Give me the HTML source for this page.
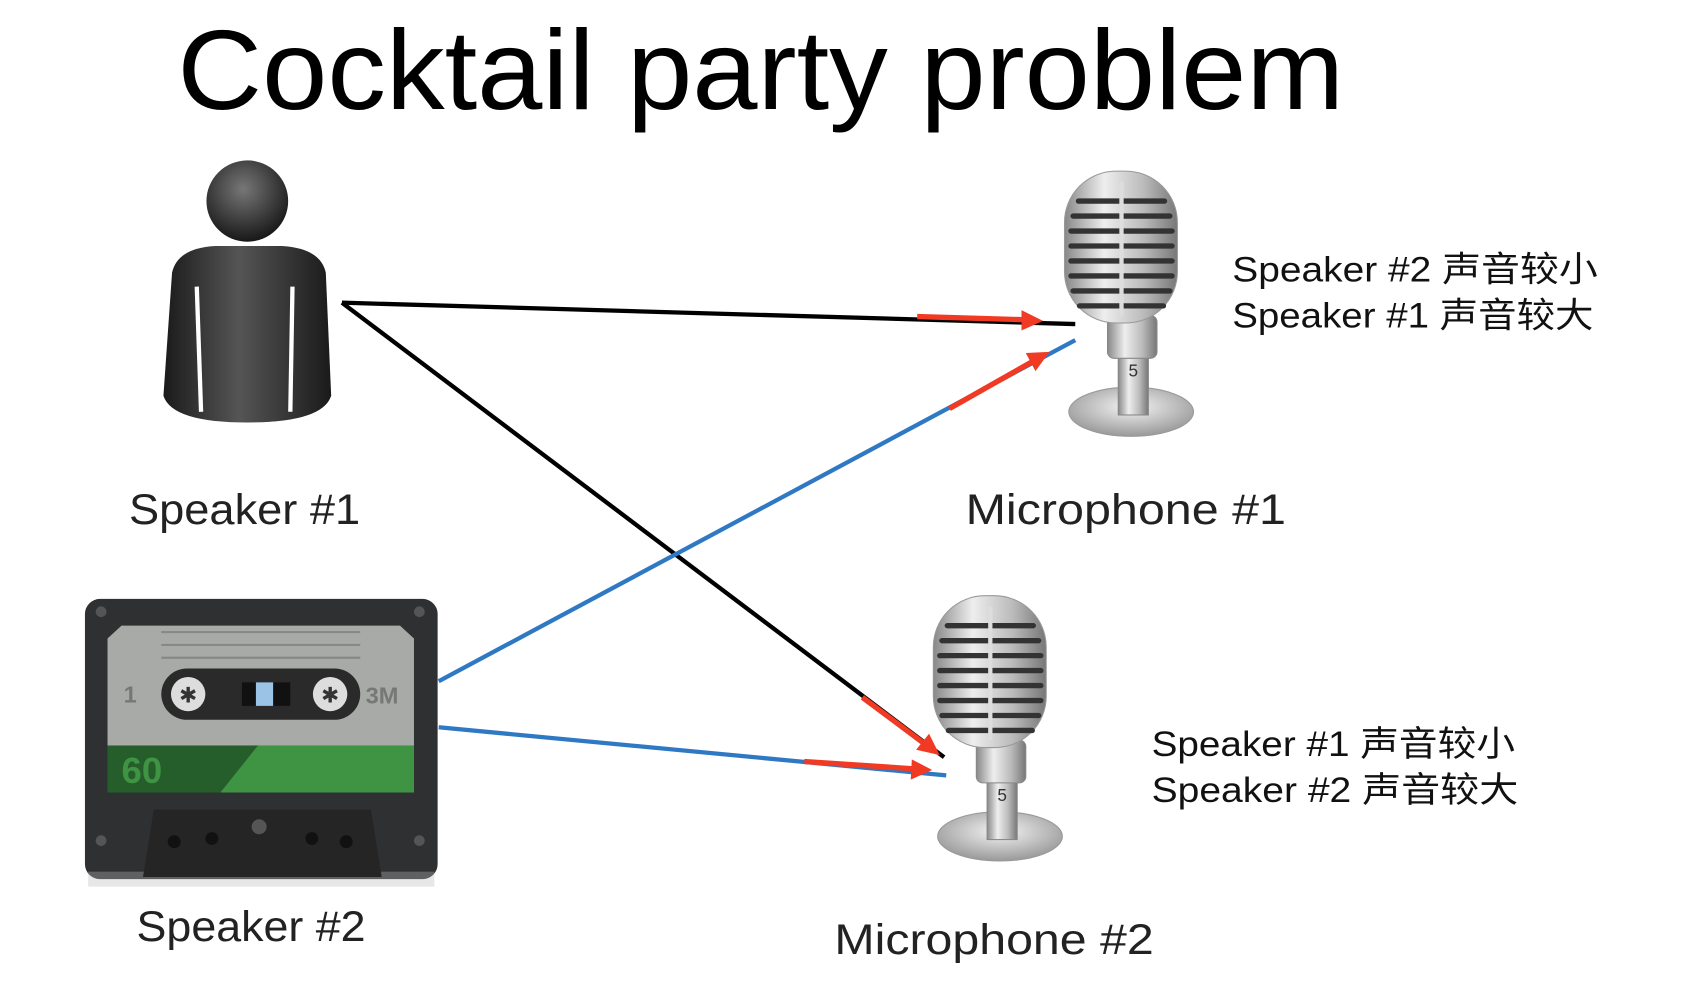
<!DOCTYPE html>
<html><head><meta charset="utf-8"><style>
html,body{margin:0;padding:0;background:#fff;width:1686px;height:1000px;overflow:hidden}
svg{display:block}
</style></head><body>
<svg width="1686" height="1000" viewBox="0 0 1568 935" preserveAspectRatio="none" xmlns="http://www.w3.org/2000/svg">
<defs>
<linearGradient id="body" x1="0" x2="1" y1="0" y2="0">
<stop offset="0" stop-color="#1a1a1a"/><stop offset="0.45" stop-color="#555"/><stop offset="1" stop-color="#1a1a1a"/>
</linearGradient>
<radialGradient id="head" cx="0.45" cy="0.35" r="0.7">
<stop offset="0" stop-color="#777"/><stop offset="1" stop-color="#111"/>
</radialGradient>
<linearGradient id="chrome" x1="0" x2="1">
<stop offset="0" stop-color="#888"/><stop offset="0.35" stop-color="#eee"/><stop offset="0.7" stop-color="#bbb"/><stop offset="1" stop-color="#777"/>
</linearGradient>
<radialGradient id="base" cx="0.5" cy="0.4" r="0.6">
<stop offset="0" stop-color="#f4f4f4"/><stop offset="1" stop-color="#999"/>
</radialGradient>
<g id="mic">
<ellipse cx="1052" cy="385" rx="58" ry="23" fill="url(#base)" stroke="#999"/>
<rect x="1040" y="330" width="28" height="58" fill="url(#chrome)" stroke="#888"/>
<rect x="1030" y="295" width="46" height="40" rx="6" fill="url(#chrome)" stroke="#888"/>
<rect x="990" y="160" width="105" height="142" rx="48" fill="url(#chrome)" stroke="#999"/>
<g stroke="#333" stroke-width="5" stroke-linecap="round">
<line x1="1003" y1="188" x2="1083" y2="188"/>
<line x1="998" y1="202" x2="1088" y2="202"/>
<line x1="996" y1="216" x2="1090" y2="216"/>
<line x1="996" y1="230" x2="1090" y2="230"/>
<line x1="996" y1="244" x2="1090" y2="244"/>
<line x1="996" y1="258" x2="1090" y2="258"/>
<line x1="998" y1="272" x2="1088" y2="272"/>
<line x1="1004" y1="286" x2="1082" y2="286"/>
</g>
<line x1="1043" y1="170" x2="1043" y2="295" stroke="#ddd" stroke-width="4"/>
<text x="1054" y="352" font-family="Liberation Sans,sans-serif" font-size="16" fill="#333" text-anchor="middle">5</text>
</g>
</defs>

<text x="165" y="102" font-family="Liberation Sans,sans-serif" font-size="106" fill="#000" textLength="1085" lengthAdjust="spacingAndGlyphs">Cocktail party problem</text>

<circle cx="230" cy="188" r="38" fill="url(#head)"/>
<path d="M160 255 Q165 232 200 230 L262 230 Q298 232 303 255 L308 370 Q300 395 230 395 Q160 395 152 370 Z" fill="url(#body)"/>
<line x1="183" y1="268" x2="187" y2="385" stroke="#fff" stroke-width="4"/>
<line x1="272" y1="268" x2="270" y2="385" stroke="#fff" stroke-width="4"/>
<text x="120" y="490" font-family="Liberation Sans,sans-serif" font-size="40" fill="#222" textLength="215" lengthAdjust="spacingAndGlyphs">Speaker #1</text>

<use href="#mic"/>
<use href="#mic" transform="translate(-122,397)"/>
<text x="898" y="490" font-family="Liberation Sans,sans-serif" font-size="40" fill="#222" textLength="298" lengthAdjust="spacingAndGlyphs">Microphone #1</text>
<text x="776" y="892" font-family="Liberation Sans,sans-serif" font-size="40" fill="#222" textLength="297" lengthAdjust="spacingAndGlyphs">Microphone #2</text>

<g font-family="Liberation Sans,'Noto Sans CJK SC',sans-serif" font-size="33" fill="#111">
<text x="1146" y="263" textLength="340" lengthAdjust="spacingAndGlyphs">Speaker #2 声音较小</text>
<text x="1146" y="306" textLength="336" lengthAdjust="spacingAndGlyphs">Speaker #1 声音较大</text>
<text x="1071" y="707" textLength="338" lengthAdjust="spacingAndGlyphs">Speaker #1 声音较小</text>
<text x="1071" y="750" textLength="341" lengthAdjust="spacingAndGlyphs">Speaker #2 声音较大</text>
</g>

<rect x="79" y="560" width="328" height="262" rx="14" fill="#2f3032"/>
<rect x="82" y="815" width="322" height="14" fill="#bbb" opacity="0.35"/>
<path d="M113 585 L372 585 L385 597 L385 741 L100 741 L100 597 Z" fill="#a7aaa7"/>
<rect x="100" y="697" width="285" height="44" fill="#3f9444"/>
<path d="M100 697 L240 697 L205 741 L100 741 Z" fill="#265e2b"/>
<text x="113" y="732" font-family="Liberation Sans,sans-serif" font-size="34" font-weight="bold" fill="#3f9444">60</text>
<g stroke="#888" stroke-width="2"><line x1="150" y1="591" x2="335" y2="591"/><line x1="150" y1="603" x2="335" y2="603"/><line x1="150" y1="615" x2="335" y2="615"/></g>
<rect x="150" y="625" width="185" height="48" rx="24" fill="#2a2a2a"/>
<circle cx="175" cy="649" r="16" fill="#ddd"/><text x="175" y="657" font-size="20" text-anchor="middle" fill="#333" font-family="Liberation Sans,sans-serif">✱</text>
<circle cx="307" cy="649" r="16" fill="#ddd"/><text x="307" y="657" font-size="20" text-anchor="middle" fill="#333" font-family="Liberation Sans,sans-serif">✱</text>
<rect x="225" y="638" width="45" height="22" fill="#111"/><rect x="238" y="638" width="16" height="22" fill="#9bc3e6"/>
<text x="115" y="657" font-family="Liberation Sans,sans-serif" font-size="22" font-weight="bold" fill="#777">1</text>
<text x="340" y="658" font-family="Liberation Sans,sans-serif" font-size="22" font-weight="bold" fill="#777">3M</text>
<path d="M143 757 L345 757 L355 820 L133 820 Z" fill="#252525"/>
<g fill="#111"><circle cx="162" cy="787" r="6"/><circle cx="197" cy="784" r="6"/><circle cx="290" cy="784" r="6"/><circle cx="322" cy="787" r="6"/></g>
<g fill="#555"><circle cx="241" cy="773" r="7"/><circle cx="94" cy="572" r="5"/><circle cx="390" cy="572" r="5"/><circle cx="94" cy="786" r="5"/><circle cx="390" cy="786" r="5"/></g>
<text x="127" y="880" font-family="Liberation Sans,sans-serif" font-size="40" fill="#222" textLength="213" lengthAdjust="spacingAndGlyphs">Speaker #2</text>

<g stroke-width="4" fill="none">
<line x1="318" y1="283" x2="1000" y2="303" stroke="#000"/>
<line x1="318" y1="283" x2="878" y2="708" stroke="#000"/>
<line x1="408" y1="637" x2="1000" y2="318" stroke="#2e78c4"/>
<line x1="408" y1="680" x2="880" y2="725" stroke="#2e78c4"/>
</g>
<g stroke="#f03a23" stroke-width="5" fill="#f03a23">
<line x1="853" y1="296" x2="955" y2="299"/><polygon points="970,300 950,290 950,309" stroke="none"/>
<line x1="883" y1="382" x2="962" y2="337"/><polygon points="976,329 954,330 963,347" stroke="none"/>
<line x1="802" y1="652" x2="862" y2="697"/><polygon points="874,706 864,686 852,701" stroke="none"/>
<line x1="748" y1="712" x2="852" y2="719"/><polygon points="867,720 848,710 847,729" stroke="none"/>
</g>
</svg>
</body></html>
